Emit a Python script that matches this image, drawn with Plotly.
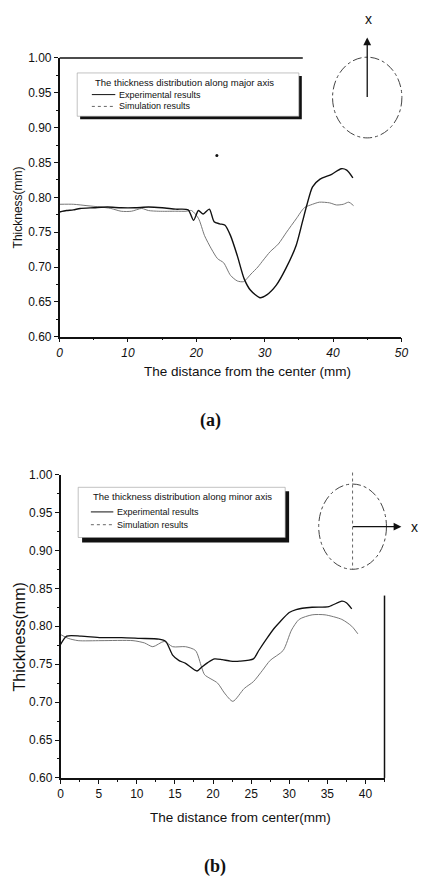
import plotly.graph_objects as go

# ---------------- data (a): major axis ----------------
a_exp_x = [0, 1, 2, 3, 5, 7, 9, 11, 13, 15, 17, 18.8, 19.6, 20.3, 21.0, 21.9, 22.6, 23.4, 24.2,
           25.0, 26.0, 27.0, 27.9, 29.3, 30.3, 31.7, 33.1, 34.6, 35.5, 36.2, 37.0, 38.1, 39.8,
           41.2, 42.0, 42.9]
a_exp_y = [0.779, 0.781, 0.782, 0.784, 0.785, 0.786, 0.785, 0.785, 0.786, 0.785, 0.783, 0.782,
           0.767, 0.781, 0.776, 0.783, 0.765, 0.762, 0.760, 0.745, 0.716, 0.683, 0.667, 0.656,
           0.660, 0.674, 0.698, 0.731, 0.764, 0.790, 0.815, 0.826, 0.833, 0.841, 0.839, 0.828]
a_sim_x = [0, 2, 4, 6, 7.5, 9, 10.5, 12, 13, 14.5, 17, 18.5, 19.3, 20.3, 21.2, 22.2, 23.1, 24.0,
           25.0, 26.0, 26.9, 28.0, 29.0, 29.8, 30.8, 32.0, 33.2, 34.6, 35.8, 37.0, 38.0, 39.5,
           40.5, 41.5, 42.3, 43.0]
a_sim_y = [0.790, 0.790, 0.788, 0.786, 0.784, 0.780, 0.780, 0.784, 0.781, 0.780, 0.780, 0.780,
           0.781, 0.770, 0.745, 0.726, 0.712, 0.706, 0.688, 0.680, 0.679, 0.690, 0.700, 0.710,
           0.722, 0.733, 0.750, 0.769, 0.785, 0.790, 0.793, 0.792, 0.789, 0.790, 0.793, 0.788]
a_stray_x = [23.0]
a_stray_y = [0.860]

# ---------------- data (b): minor axis ----------------
b_exp_x = [0, 0.8, 2.7, 5.3, 8, 10.4, 12.9, 13.8, 14.7, 15.5, 16.4, 17.9, 18.5, 19.3, 20.2,
           21.2, 22.3, 23.5, 25.3, 26.0, 27.0, 28.0, 28.8, 30.0, 30.9, 33.0, 35.2, 36.9, 37.5, 38.2]
b_exp_y = [0.776, 0.787, 0.787, 0.785, 0.785, 0.784, 0.783, 0.780, 0.762, 0.755, 0.751, 0.741,
           0.746, 0.752, 0.757, 0.756, 0.754, 0.754, 0.757, 0.768, 0.783, 0.797, 0.806, 0.818,
           0.822, 0.825, 0.826, 0.833, 0.831, 0.823]
b_sim_x = [0, 1, 2.3, 5.3, 9.5, 11, 12.1, 13.6, 14.7, 16.4, 17.7, 18.5, 18.9, 20.6, 21.5, 22.6,
           24.1, 25.3, 26.5, 27.5, 29.2, 30.3, 31.3, 33.0, 34.7, 36.9, 38.2, 39.0]
b_sim_y = [0.789, 0.784, 0.781, 0.781, 0.781, 0.778, 0.773, 0.780, 0.773, 0.773, 0.768, 0.746,
           0.736, 0.725, 0.712, 0.701, 0.718, 0.727, 0.742, 0.755, 0.768, 0.795, 0.809, 0.815,
           0.815, 0.809, 0.800, 0.790]

W, H = 425, 888


def X(px):
    return px / W


def Y(py):
    return 1 - py / H


fig = go.Figure()
fig.add_trace(go.Scatter(x=a_sim_x, y=a_sim_y, mode="lines",
                         line=dict(color="#777", width=1, shape="spline", smoothing=0.7),
                         xaxis="x", yaxis="y", showlegend=False))
fig.add_trace(go.Scatter(x=a_exp_x, y=a_exp_y, mode="lines",
                         line=dict(color="#111", width=1.4, shape="spline", smoothing=0.7),
                         xaxis="x", yaxis="y", showlegend=False))
fig.add_trace(go.Scatter(x=a_stray_x, y=a_stray_y, mode="markers", marker=dict(color="#111", size=3),
                         xaxis="x", yaxis="y", showlegend=False))
fig.add_trace(go.Scatter(x=b_sim_x, y=b_sim_y, mode="lines",
                         line=dict(color="#777", width=1, shape="spline", smoothing=0.7),
                         xaxis="x2", yaxis="y2", showlegend=False))
fig.add_trace(go.Scatter(x=b_exp_x, y=b_exp_y, mode="lines",
                         line=dict(color="#111", width=1.3, shape="spline", smoothing=0.7),
                         xaxis="x2", yaxis="y2", showlegend=False))

tickfont = dict(family="Liberation Sans, Arial", size=12, color="#111")
common_axis = dict(showline=True, linecolor="#111", linewidth=1.5, ticks="outside", ticklen=4,
                   tickcolor="#111", showgrid=False, zeroline=False, tickfont=tickfont)

fig.update_layout(
    width=W, height=H, margin=dict(l=0, r=0, t=0, b=0),
    paper_bgcolor="white", plot_bgcolor="white",
    xaxis=dict(domain=[X(58), X(408)], range=[0, 50], dtick=10, anchor="y",
               minor=dict(dtick=5, ticks="outside", ticklen=2, tickcolor="#111"),
               **{**common_axis, "tickfont": dict(family="Liberation Sans, Arial", size=12,
                                                  color="#111", style="italic")}),
    yaxis=dict(domain=[Y(335), Y(51.7)], range=[0.60, 1.00], dtick=0.05, tickformat=".2f",
               anchor="x", minor=dict(dtick=0.025, ticks="outside", ticklen=2, tickcolor="#111"),
               **common_axis),
    xaxis2=dict(domain=[X(59), X(390.7)], range=[0, 42.5], dtick=5, anchor="y2",
                minor=dict(dtick=2.5, ticks="outside", ticklen=2, tickcolor="#111"),
                **common_axis),
    yaxis2=dict(domain=[Y(783.3), Y(475)], range=[0.60, 1.00], dtick=0.05, tickformat=".2f",
                anchor="x2", minor=dict(dtick=0.025, ticks="outside", ticklen=2, tickcolor="#111"),
                **common_axis),
)

shapes = []
annotations = []


def line(x0, y0, x1, y1, color="#111", width=1, dash="solid"):
    shapes.append(dict(type="line", xref="paper", yref="paper", x0=X(x0), y0=Y(y0), x1=X(x1), y1=Y(y1),
                       line=dict(color=color, width=width, dash=dash)))


def rect(x0, y0, x1, y1, fill, lc, lw):
    shapes.append(dict(type="rect", xref="paper", yref="paper", x0=X(x0), y0=Y(y0), x1=X(x1), y1=Y(y1),
                       fillcolor=fill, line=dict(color=lc, width=lw), layer="above"))


def text(px, py, s, size, xanchor="left", family="Liberation Sans, Arial", angle=0, bold=False):
    annotations.append(dict(x=X(px), y=Y(py), xref="paper", yref="paper", text=(f"<b>{s}</b>" if bold else s),
                            showarrow=False, xanchor=xanchor, yanchor="middle", textangle=angle,
                            font=dict(family=family, size=size, color="#111")))


# partial frame lines
line(58, 51.7, 307, 51.7, width=1.5)
line(390.7, 598, 390.7, 783.3, width=1.5)

# legend box (a)
rect(79, 70, 306, 114, "#111", "#111", 0)
rect(76, 67, 303, 111, "white", "#999", 0.6)
text(92, 77, "The thickness distribution along major axis", 9.5)
line(91, 89, 115, 89, width=1)
text(117, 89, "Experimental results", 9)
line(91, 101, 115, 101, color="#666", width=1, dash="dot")
text(117, 101, "Simulation results", 9)

# legend box (b)
rect(81, 492, 293, 544, "#111", "#111", 0)
rect(77, 488, 289, 539, "white", "#999", 0.6)
text(90, 497, "The thickness distribution along minor axis", 9.5)
line(90, 513, 113, 513, width=1)
text(115, 513, "Experimental results", 9)
line(90, 526, 113, 526, color="#666", width=1, dash="dot")
text(115, 526, "Simulation results", 9)

# ellipse sketches
shapes.append(dict(type="circle", xref="paper", yref="paper", x0=X(373 - 35.5), x1=X(373 + 35.5),
                   y0=Y(92 + 41), y1=Y(92 - 41), line=dict(color="#444", width=1, dash="dashdot")))
shapes.append(dict(type="circle", xref="paper", yref="paper", x0=X(358 - 34.7), x1=X(358 + 34.7),
                   y0=Y(528 + 43.3), y1=Y(528 - 43.3), line=dict(color="#444", width=1, dash="dashdot")))
line(358, 473, 358, 572, color="#666", width=1, dash="dot")

annotations.append(dict(x=X(373), y=Y(31), xref="paper", yref="paper", text="", showarrow=True,
                        ax=0, ay=61, axref="pixel", ayref="pixel", arrowhead=2, arrowsize=1.2,
                        arrowwidth=1.3, arrowcolor="#111"))
annotations.append(dict(x=X(408), y=Y(528), xref="paper", yref="paper", text="", showarrow=True,
                        ax=-50, ay=0, axref="pixel", ayref="pixel", arrowhead=2, arrowsize=1.2,
                        arrowwidth=1.3, arrowcolor="#111"))
text(374, 12, "x", 14, xanchor="center")
text(421, 528, "x", 14, xanchor="center")

# axis titles
text(250, 370, "The distance from the center (mm)", 13.5, xanchor="center")
text(15, 204, "Thickness(mm)", 12, xanchor="center", angle=-90)
text(243, 823, "The distance from center(mm)", 13.5, xanchor="center")
text(17, 640, "Thickness(mm)", 16, xanchor="center", angle=-90)

# panel labels
text(212, 420, "(a)", 18, xanchor="center", family="Liberation Serif, Times New Roman", bold=True)
text(217, 873, "(b)", 18, xanchor="center", family="Liberation Serif, Times New Roman", bold=True)

fig.update_layout(shapes=shapes, annotations=annotations)
fig.write_html("out.html")
